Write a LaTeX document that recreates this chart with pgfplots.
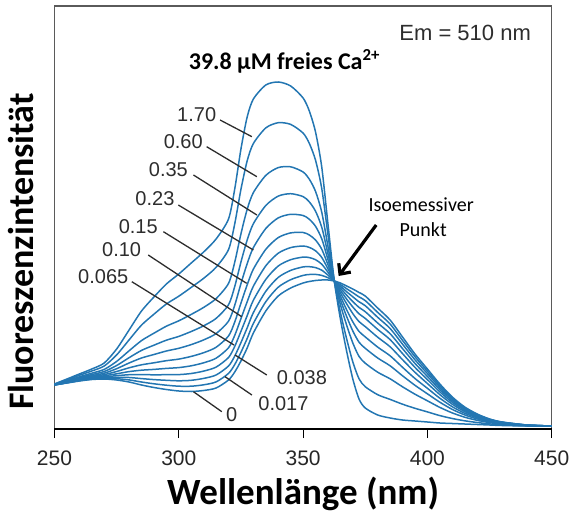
\documentclass[border=0pt]{standalone}
\usepackage{fontspec}
\setmainfont{Liberation Sans}
\newfontfamily\calibri{Carlito}
\usepackage{pgfplots}
\usepackage{pgfplotstable}
\pgfplotsset{compat=1.18}
\usetikzlibrary{arrows.meta}
\definecolor{curve}{RGB}{35,118,178}
\definecolor{lead}{RGB}{45,45,45}
\definecolor{frame}{RGB}{90,90,90}

% columns c0..c10 : 0, 0.017, 0.038, 0.065, 0.10, 0.15, 0.23, 0.35, 0.60, 1.70, 39.8 uM Ca
\pgfplotstableread{
x c0 c1 c2 c3 c4 c5 c6 c7 c8 c9 c10
250 44 44.0 44.1 44.1 44.2 44.3 44.4 44.5 44.6 44.8 45
255 46 46.2 46.3 46.6 46.8 47.1 47.5 47.9 48.4 49.2 50
260 48 48.3 48.6 49.0 49.4 49.9 50.6 51.3 52.2 53.7 55
265 49.5 49.9 50.4 51.0 51.6 52.4 53.3 54.4 55.8 58.0 60
270 50 50.7 51.4 52.2 53.2 54.4 55.8 57.5 59.6 63.0 66
275 49 50.3 51.7 53.3 55.2 57.5 60.3 63.5 67.6 74.1 80
280 47 49.1 51.5 54.3 57.4 61.2 66.0 71.3 78.2 89.1 99
285 44 47.0 50.4 54.4 58.8 64.2 71.0 78.6 88.4 103.9 118
290 41.5 45.2 49.4 54.2 59.6 66.2 74.5 83.8 95.8 114.8 132
295 39.5 43.8 48.7 54.3 60.6 68.3 78.0 88.8 102.8 125.0 145
300 38 42.8 48.2 54.4 61.4 69.9 80.7 92.6 108.2 132.8 155
305 37.5 42.8 48.7 55.5 63.2 72.6 84.4 97.5 114.6 141.6 166
310 38.5 44.2 50.6 57.9 66.2 76.3 89.1 103.2 121.6 150.7 177
315 41 47.1 54.0 61.9 70.8 81.7 95.4 110.6 130.4 161.7 190
320 49 55.6 63.0 71.5 81.2 93.0 107.8 124.2 145.6 179.4 210
322.5 57 64.5 72.9 82.6 93.6 107.0 123.8 142.5 166.8 205.2 240
325 68 76.7 86.4 97.7 110.4 125.9 145.4 167.0 195.2 239.7 280
327.5 81 90.5 101.1 113.3 127.2 144.1 165.3 188.9 219.6 268.1 312
330 96 105.6 116.4 128.8 142.8 159.9 181.4 205.3 236.4 285.5 330
335 118 127.3 137.7 149.6 163.2 179.7 200.5 223.5 253.6 301.1 344
340 133 141.8 151.6 163.0 175.8 191.4 211.1 232.9 261.4 306.3 347
345 141 149.3 158.6 169.3 181.4 196.1 214.7 235.3 262.2 304.6 343
350 146 153.6 162.1 171.9 183.0 196.5 213.5 232.4 257.0 295.9 331
352.5 147.5 154.5 162.3 171.4 181.6 194.0 209.7 227.1 249.8 285.6 318
355 148.5 154.6 161.4 169.3 178.2 189.0 202.7 217.8 237.6 268.8 297
357.5 149 153.6 158.8 164.8 171.6 179.8 190.2 201.8 216.8 240.5 262
360 149 151.3 153.9 156.8 160.2 164.3 169.4 175.2 182.6 194.4 205
362.5 148 148.0 148.1 148.1 148.2 148.3 148.4 148.5 148.6 148.8 149
365 146 144.5 142.9 141.0 138.8 136.2 132.9 129.2 124.4 116.8 110
367.5 143 140.3 137.3 133.9 130.0 125.3 119.3 112.6 104.0 90.3 78
370 140 136.3 132.2 127.4 122.0 115.4 107.1 98.0 86.0 67.1 50
372.5 136.5 132.1 127.2 121.6 115.2 107.4 97.6 86.8 72.6 50.2 30
375 133 128.4 123.3 117.3 110.6 102.4 92.1 80.7 65.8 42.3 21
380 121 116.6 111.7 106.0 99.6 91.8 81.9 71.0 56.8 34.3 14
385 109 105.0 100.5 95.3 89.4 82.2 73.2 63.2 50.2 29.6 11
390 92 88.6 84.8 80.4 75.4 69.3 61.7 53.2 42.2 24.8 9
395 75 72.3 69.2 65.6 61.6 56.7 50.5 43.7 34.8 20.7 8
400 60 57.8 55.4 52.6 49.4 45.5 40.7 35.2 28.2 17.1 7
405 45 43.4 41.6 39.5 37.2 34.4 30.8 26.8 21.6 13.4 6
410 32 30.9 29.7 28.3 26.7 24.8 22.3 19.6 16.1 10.5 5.5
415 22 21.3 20.5 19.6 18.6 17.4 15.8 14.1 11.8 8.2 5
420 15 14.6 14.1 13.5 12.9 12.1 11.2 10.1 8.7 6.5 4.5
425 10 9.8 9.5 9.2 8.8 8.4 7.8 7.2 6.4 5.1 4
430 7 6.9 6.7 6.5 6.3 6.0 5.7 5.4 4.9 4.2 3.5
440 4 4.0 3.9 3.9 3.8 3.7 3.6 3.5 3.4 3.2 3
450 3 3 3 3 3 3 3 3 3 3 3
}\spectra

\begin{document}
\begin{tikzpicture}
\useasboundingbox (-54.5bp,-89bp) rectangle (517.5bp,429bp);
\begin{axis}[
  at={(0,0)}, anchor=south west,
  scale only axis, width=497.2bp, height=423bp,
  xmin=250, xmax=450, ymin=0, ymax=423,
  xtick={250,300,350,400,450}, ytick=\empty,
  xtick pos=lower, tick align=outside,
  major tick length=9bp,
  tick style={black, line width=1.2bp},
  axis line style={draw=frame, line width=1.1bp},
  /pgf/number format/assume math mode=true,
  xticklabel style={font=\fontsize{21bp}{21bp}\selectfont, text=black!85, yshift=-9bp},
  xlabel={\calibri\bfseries Wellenlänge (nm)},
  ylabel={\calibri\bfseries Fluoreszenzintensität},
  x label style={at={(axis description cs:0.5,0)}, anchor=center, yshift=-65bp, font=\fontsize{37bp}{37bp}\selectfont},
  y label style={at={(axis description cs:0,0.5)}, anchor=center, xshift=-34bp, yshift=33.5bp, font=\fontsize{36bp}{36bp}\selectfont},
  clip=false,
]
\pgfplotsinvokeforeach{0,...,10}{
  \addplot[curve, line width=1.5bp, smooth, tension=0.45] table[x=x, y=c#1] {\spectra};
}
\draw[black, line width=1.6bp] (rel axis cs:0,0) -- (rel axis cs:1,0);

% leader lines
\begin{scope}[lead, line width=1.3bp]
\draw (axis cs:316.6,309) -- (axis cs:329.4,292.3);
\draw (axis cs:311.2,282.3) -- (axis cs:331.4,252.3);
\draw (axis cs:305.9,254) -- (axis cs:331.4,214);
\draw (axis cs:299.8,224) -- (axis cs:330,179);
\draw (axis cs:293.8,197.3) -- (axis cs:327.3,145.7);
\draw (axis cs:287.7,174) -- (axis cs:325.3,112.3);
\draw (axis cs:281.1,147.3) -- (axis cs:322.2,84);
\draw (axis cs:335.4,54) -- (axis cs:322.6,74);
\draw (axis cs:329.4,34) -- (axis cs:318.6,52.3);
\draw (axis cs:317.3,17.3) -- (axis cs:305.9,37.3);
\end{scope}

\begin{scope}[every node/.style={font=\fontsize{20bp}{20bp}\selectfont, text=lead, inner sep=0pt}]
\node at (axis cs:307.2,314) {1.70};
\node at (axis cs:301.8,287.3) {0.60};
\node at (axis cs:295.8,259) {0.35};
\node at (axis cs:290.4,230.7) {0.23};
\node at (axis cs:283.7,202.3) {0.15};
\node at (axis cs:277,179) {0.10};
\node at (axis cs:269.6,152.3) {0.065};
\node at (axis cs:349.5,51.3) {0.038};
\node at (axis cs:342.1,25.7) {0.017};
\node at (axis cs:321.3,14) {0};
\end{scope}

\node[anchor=east, font=\fontsize{22bp}{22bp}\selectfont, text=lead, inner sep=0pt] at (axis cs:441.7,396) {Em = 510 nm};
\node[font=\calibri\bfseries\fontsize{24bp}{24bp}\selectfont, inner sep=0pt] at (axis cs:342.5,368) {39.8 µM freies Ca\textsuperscript{2+}};
\node[font=\calibri\fontsize{20bp}{20bp}\selectfont, inner sep=0pt] at (axis cs:397.5,224) {Isoemessiver};
\node[font=\calibri\fontsize{20bp}{20bp}\selectfont, inner sep=0pt] at (axis cs:398.3,199) {Punkt};
\draw[black, line width=3.2bp, -{Straight Barb[length=8bp, width=15bp]}] (axis cs:379.4,204) -- (axis cs:364.3,153);
\end{axis}
\end{tikzpicture}
\end{document}
